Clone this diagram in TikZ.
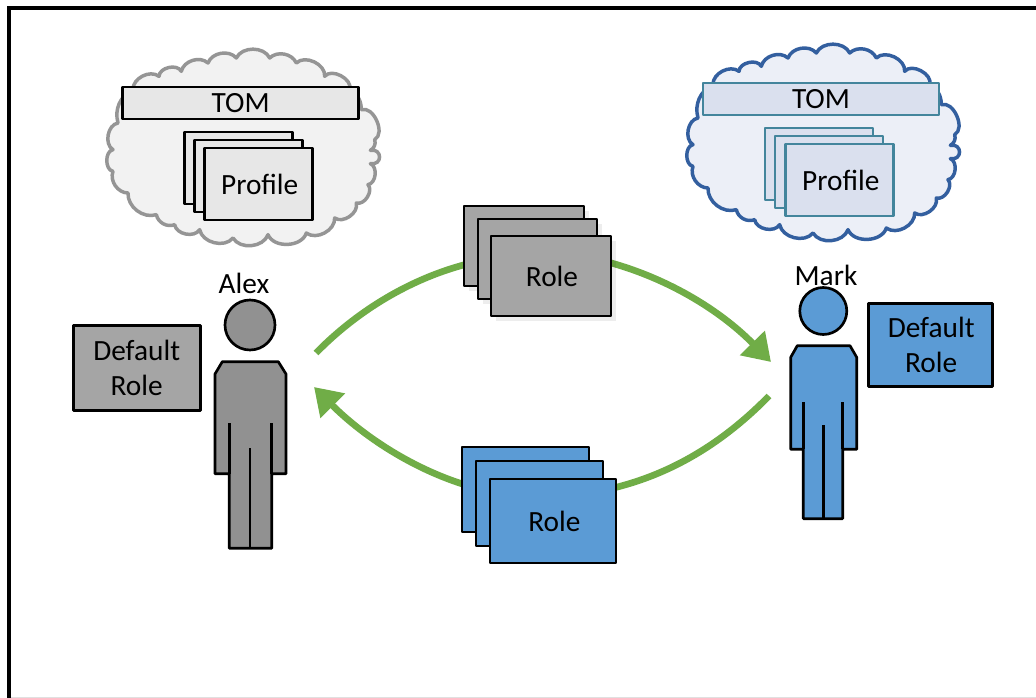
\documentclass[tikz,border=0pt]{standalone}
\usepackage{fontspec}
\setmainfont{Carlito}
\usetikzlibrary{arrows.meta,shadows}
\definecolor{arrowgreen}{HTML}{70AD47}
\definecolor{rolegray}{HTML}{A5A5A5}
\definecolor{persongray}{HTML}{919191}
\definecolor{roleblue}{HTML}{5B9BD5}
\definecolor{cloudgrayfill}{HTML}{F2F2F2}
\definecolor{cloudgrayline}{HTML}{959595}
\definecolor{boxgrayfill}{HTML}{E7E7E7}
\definecolor{cloudbluefill}{HTML}{ECEFF7}
\definecolor{cloudblueline}{HTML}{335F9F}
\definecolor{boxbluefill}{HTML}{DAE0EE}
\definecolor{boxblueline}{HTML}{43859C}
\tikzset{
  lbl/.style={font=\fontsize{22}{26.5}\selectfont,text=black,align=center,inner sep=0pt,outer sep=0pt},
  bx/.style 2 args={draw,line width=2pt,line join=round,inner sep=0pt,outer sep=0pt,
     minimum width=#1*0.75pt,minimum height=#2*0.75pt,lbl},
  softshadow/.style={drop shadow={shadow xshift=3.5pt,shadow yshift=-3.5pt,opacity=.07,fill=black}},
  cloudline/.style={line width=2.6pt,line join=round},
  flow/.style={draw=arrowgreen,line width=5pt},
  flowtip/.style={-{Triangle[length=20pt,width=25pt]}},
  personbody/.style={draw=black,line width=2pt,line join=round},
  personline/.style={draw=black,line width=2pt},
}
\newcommand{\cloudoutline}{%
 (120,140) to[bend left=65] (198,100) to[bend left=75] (265,85) to[bend left=60] (345,60)
 to[bend left=60] (430,45) to[bend left=65] (530,45) to[bend left=55] (610,60)
 to[bend left=70] (695,100) to[bend left=80] (770,140) to[bend left=30] (805,200)
 to[bend left=85] (845,290) to[bend left=40] (832,322) to[bend left=100,looseness=2.4] (832,362)
 to[bend left=75] (825,425) to[bend left=75] (790,480) to[bend left=70] (725,525)
 to[bend left=65] (640,570) to[bend left=70] (525,575) to[bend left=65] (420,585)
 to[bend left=65] (320,560) to[bend left=70] (245,545) to[bend left=50] (190,515)
 to[bend left=55] (105,450) to[bend left=55] (60,385) to[bend left=80] (60,320)
 to[bend left=70] (75,240) to[bend left=40] (120,140) -- cycle}
\begin{document}
\begin{tikzpicture}[x=0.75pt,y=-0.75pt]
\useasboundingbox (0,0) rectangle (1036,698);
\fill[white] (0,0) rectangle (1036,698);
\draw[line width=3pt,line cap=butt,line join=miter] (9,698) -- (9,8) -- (1036,8);
\draw[line width=1pt,black!12] (11,697.3) -- (1036,697.3);

% connectors
\coordinate (gs) at (316,353);
\coordinate (gl) at (480,261);
\coordinate (gr) at (600,260);
\coordinate (ge) at (771,362);
\coordinate (bs) at (769,396);
\coordinate (br) at (600,491);
\coordinate (bl) at (480,489);
\coordinate (be) at (314,387);
\draw[flow] (gs) .. controls (360,308) and (418,274) .. (gl);
\draw[flow,flowtip] (gr) .. controls (665,276) and (720,310) .. (ge);
\draw[flow] (bs) .. controls (720,446) and (665,478) .. (br);
\draw[flow,flowtip] (bl) .. controls (420,474) and (365,438) .. (be);

% gray role stack
\node[bx={120}{80},fill=rolegray,softshadow] (rg1) at (524,246) {};
\node[bx={119}{80},fill=rolegray,softshadow] (rg2) at (537.5,259) {};
\node[bx={120}{80},fill=rolegray,softshadow] (rg3) at (551,276) {\hspace*{1.5pt}Role};
% blue role stack
\node[bx={127}{85},fill=roleblue] (rb1) at (525.5,489.5) {};
\node[bx={127}{85},fill=roleblue] (rb2) at (539.5,503.5) {};
\node[bx={126}{84},fill=roleblue] (rb3) at (553,521) {\hspace*{2pt}Role};

% gray cloud group
\begin{scope}[shift={(93,43)},x=0.25pt,y=-0.25pt]
  \draw[cloudline,draw=cloudgrayline,fill=cloudgrayfill] \cloudoutline;
\end{scope}
\node[bx={236}{32},fill=boxgrayfill] (tomg) at (240.7,103) {TOM};
\node[bx={108}{72},fill=boxgrayfill] (pg1) at (238.7,168) {};
\node[bx={108}{72},fill=boxgrayfill] (pg2) at (248.7,176) {};
\node[bx={108}{72},fill=boxgrayfill] (pg3) at (258.7,184) {\hspace*{1.5pt}Profile};

% blue cloud group
\begin{scope}[shift={(673,38)},x=0.25pt,y=-0.25pt]
  \draw[cloudline,draw=cloudblueline,fill=cloudbluefill] \cloudoutline;
\end{scope}
\tikzset{bb/.style={draw=boxblueline,fill=boxbluefill}}
\node[bx={236}{32},bb] (tomb) at (821,99) {TOM};
\node[bx={108}{72},bb] (pb1) at (819,164) {};
\node[bx={108}{72},bb] (pb2) at (829,172) {};
\node[bx={108}{72},bb] (pb3) at (839.5,180) {\hspace*{2pt}Profile};

% Alex
\node[lbl] (alex) at (244,283.5) {Alex};
\node[draw,circle,line width=2pt,fill=persongray,minimum size=50*0.75pt,inner sep=0pt] (ahead) at (250,325) {};
\draw[personbody,fill=persongray] (222.3,361.7) -- (278.3,361.7) -- (286,374) -- (286,473.7) -- (271.7,473.7) -- (271.7,548.3) -- (229.3,548.3) -- (229.3,473.7) -- (215,473.7) -- (215,374) -- cycle;
\draw[personline] (229.3,423.3) -- (229.3,473.7) (271.7,423.3) -- (271.7,473.7) (250,448.3) -- (250,548.3);
\node[bx={127}{85},fill=rolegray] (dg) at (136.7,368.2) {Default\\Role};

% Mark
\node[lbl] (mark) at (826,275.5) {Mark};
\node[draw,circle,line width=2pt,fill=roleblue,minimum size=47*0.75pt,inner sep=0pt] (mhead) at (823.3,311) {};
\draw[personbody,fill=roleblue] (797.3,345.7) -- (850,345.7) -- (856.7,357.3) -- (856.7,449.3) -- (842.7,449.3) -- (842.7,518.7) -- (803.3,518.7) -- (803.3,449.3) -- (790.7,449.3) -- (790.7,357.3) -- cycle;
\draw[personline] (803.3,402.5) -- (803.3,449.3) (842.7,402.5) -- (842.7,449.3) (823.3,425.3) -- (823.3,518.7);
\node[bx={124}{83},fill=roleblue] (db) at (930.2,344.8) {\hspace*{1.5pt}Default\\\hspace*{1.5pt}Role};
\end{tikzpicture}
\end{document}
